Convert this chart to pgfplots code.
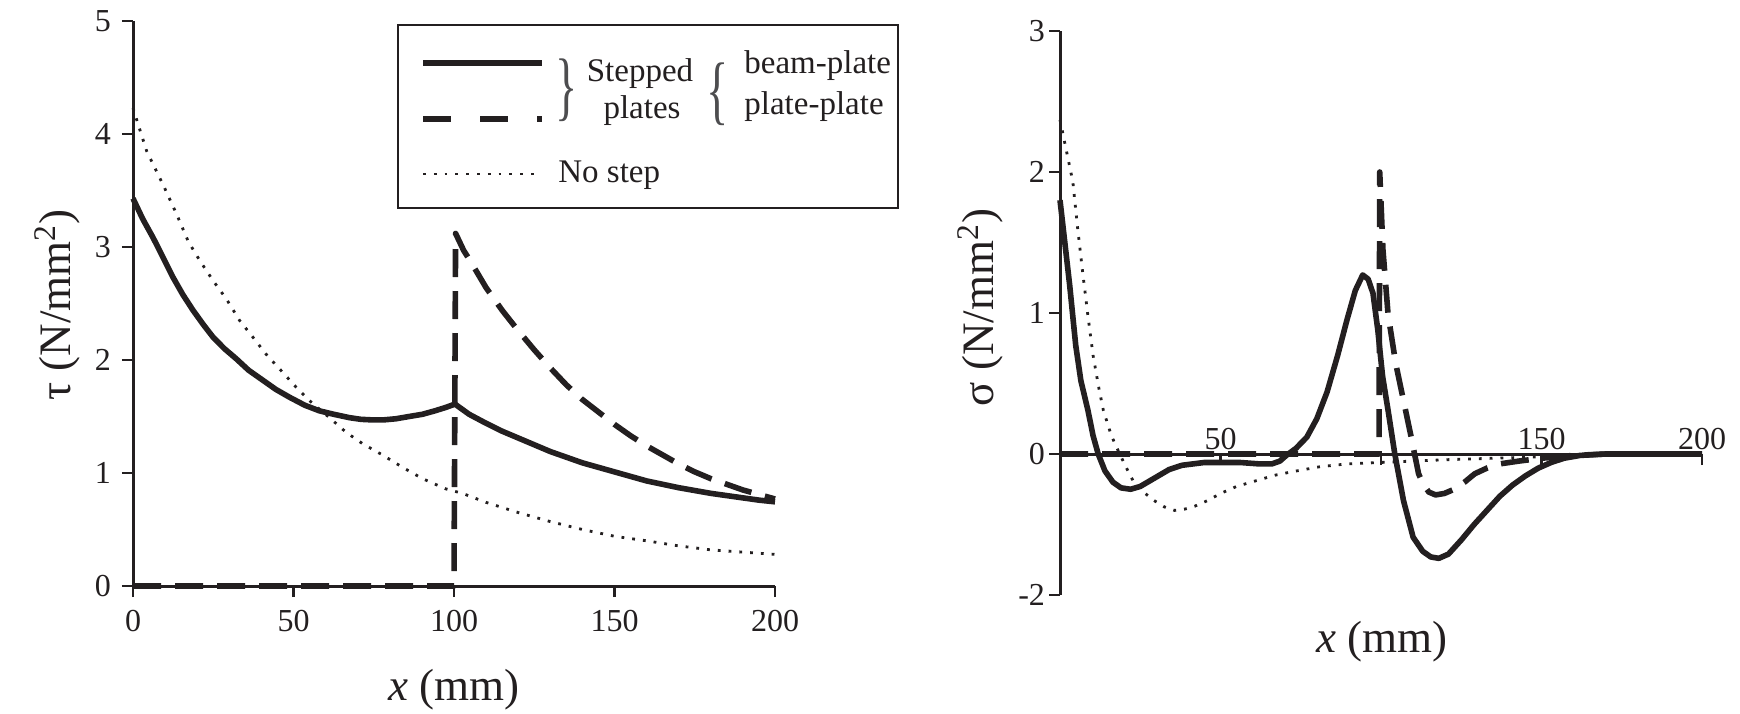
\documentclass[border=0pt]{standalone}
\usepackage{fontspec}
\setmainfont{Liberation Serif}
\usepackage{graphicx}
\usepackage{pgfplots}
\pgfplotsset{compat=1.18}
\definecolor{ink}{HTML}{231F20}
\definecolor{bracegray}{HTML}{4D4D4F}
\newcommand{\tickfont}{\fontsize{16}{18}\selectfont}
\newcommand{\labfont}{\fontsize{22.5}{26}\selectfont}
\newcommand{\legfont}{\fontsize{16.5}{18}\selectfont}

\tikzset{
  beam/.style={ink, line width=2.8pt, line join=round},
  plate/.style={ink, line width=2.8pt, line join=round, dash pattern=on 14pt off 7pt},
  nostep/.style={ink, line width=1.4pt, dash pattern=on 1.4pt off 4pt},
}
\pgfplotsset{
  stressaxis/.style={
    scale only axis, width=321pt, anchor=south west, clip=false,
    xmin=0, xmax=200,
    axis line style={line width=1.5pt, ink, -},
    tick style={line width=1.4pt, ink},
    major tick length=5.5pt, tick align=outside,
    ticklabel style={font=\tickfont, text=ink},
    /pgf/number format/assume math mode=true,
  },
}

\begin{document}
\begin{tikzpicture}
\useasboundingbox (0pt,0pt) rectangle (870pt,-356.5pt);

% shear stress
\begin{axis}[stressaxis, at={(66.5pt,-293pt)}, height=282.5pt,
  ymin=0, ymax=5, xtick={0,50,...,200}, ytick={0,1,...,5},
  axis x line*=bottom, axis y line*=left,
  xticklabel style={yshift=-3pt}, yticklabel style={xshift=-2pt}]
\addplot[nostep] coordinates {
  (0,4.23) (2,4.05) (4.25,3.85) (6.8,3.70) (9.4,3.55) (13.6,3.29) (17.2,3.05)
  (20.8,2.88) (25,2.70) (29.1,2.54) (33.2,2.35) (37.4,2.20) (41.5,2.05)
  (45.7,1.92) (50.8,1.76) (55,1.64) (61.2,1.49) (66.4,1.36) (71.5,1.26)
  (77.7,1.16) (84,1.05) (90.2,0.95) (97.4,0.86) (102.6,0.82) (110,0.74)
  (120,0.65) (130,0.57) (140,0.50) (150,0.44) (160,0.40) (170,0.355)
  (180,0.32) (190,0.30) (200,0.28)};
\addplot[beam] coordinates {
  (0,3.43) (3,3.25) (6.3,3.08) (9.5,2.90) (12.5,2.73) (15.5,2.58) (18.7,2.44)
  (22,2.31) (25,2.20) (28.5,2.10) (32.2,2.01) (36,1.91) (40.5,1.82)
  (44.5,1.74) (48.8,1.67) (53.5,1.60) (58.1,1.55) (62.5,1.52) (67.4,1.49)
  (71,1.475) (74.6,1.47) (78,1.47) (81.9,1.48) (86,1.50) (90.2,1.52)
  (94,1.55) (97.4,1.58) (100.3,1.61) (104.7,1.52) (110,1.44) (115,1.37)
  (120,1.31) (125,1.25) (130,1.19) (135,1.14) (140,1.09) (145,1.05)
  (150,1.01) (155,0.97) (160,0.93) (165,0.90) (170,0.87) (175,0.845)
  (180,0.82) (185,0.80) (190,0.78) (195,0.76) (200,0.745)};
\addplot[plate] coordinates {
  (0,0) (100,0) (100.5,3.12) (103,2.97) (105,2.88) (110,2.64) (115,2.44)
  (120,2.26) (125,2.09) (130,1.93) (135,1.78) (140,1.65) (145,1.54)
  (150,1.43) (155,1.33) (160,1.24) (165,1.16) (170,1.08) (175,1.01)
  (180,0.95) (185,0.90) (190,0.85) (195,0.81) (200,0.77)};
\end{axis}

% normal stress
\begin{axis}[stressaxis, at={(530pt,-297.5pt)}, height=282pt,
  ymin=-1, ymax=3, ytick={-1,0,1,2,3}, yticklabels={-2,0,1,2,3},
  xtick={50,100,150,200}, xticklabels={},
  axis y line*=left, axis x line*=middle,
  hide obscured x ticks=false, hide obscured y ticks=false,
  yticklabel style={xshift=1.5pt}]
\addplot[nostep] coordinates {
  (0,2.37) (2,2.15) (4,1.93) (5.5,1.60) (7.1,1.28) (8.7,0.98) (10.3,0.70)
  (12,0.48) (13.5,0.31) (16,0.13) (18.2,0.02) (20.5,-0.09) (23,-0.20)
  (26,-0.27) (29.3,-0.33) (32.5,-0.375) (35.7,-0.40) (39,-0.39) (42,-0.37)
  (46,-0.33) (50,-0.28) (55,-0.23) (61,-0.19) (67,-0.15) (73.7,-0.12)
  (81,-0.09) (89.5,-0.07) (99.8,-0.06) (110,-0.05) (121,-0.04) (135,-0.03)
  (150,-0.02) (165,-0.01) (180,0) (200,0)};
\addplot[beam] coordinates {
  (0,1.80) (1.5,1.50) (3,1.20) (4.9,0.77) (6.5,0.52) (8.7,0.31) (10.3,0.13)
  (11.9,0) (14,-0.12) (16.5,-0.20) (19,-0.24) (22,-0.25) (25,-0.23)
  (28,-0.19) (31,-0.15) (34,-0.11) (38,-0.08) (45,-0.06) (56,-0.06)
  (62,-0.07) (66,-0.07) (68.5,-0.05) (70.5,-0.01) (73.5,0.04) (76.9,0.12)
  (80,0.25) (83.2,0.44) (86.5,0.70) (89.5,0.96) (92,1.16) (94.3,1.27)
  (96,1.24) (97.5,1.14) (99,0.88) (100.5,0.55) (102.2,0.31) (104.3,0)
  (107,-0.33) (110,-0.59) (113,-0.69) (115.5,-0.73) (118,-0.74)
  (121,-0.71) (125,-0.61) (129,-0.50) (133,-0.40) (137,-0.30) (141,-0.22)
  (145,-0.155) (149,-0.10) (153,-0.06) (157,-0.03) (162,-0.01) (170,0)
  (200,0)};
\addplot[plate] coordinates {
  (0,0) (99.4,0) (99.6,2.0) (100.6,1.45) (102.2,0.99) (104.6,0.64)
  (107,0.38) (109.4,0.12) (111.7,-0.14) (113.3,-0.22) (114.9,-0.27)
  (117,-0.29) (119.7,-0.28) (122.8,-0.25) (126,-0.20) (129.2,-0.14)
  (133,-0.10) (137,-0.07) (143,-0.05) (150,-0.03) (160,-0.01) (170,0)
  (200,0)};
\pgfplotsinvokeforeach{50,150,200}{
  \node[font=\tickfont, text=ink, anchor=base] at (axis cs:#1,0) [yshift=2.5pt] {#1};
}
\end{axis}

% axis titles
\node[font=\labfont, text=ink, anchor=base] at (227pt,-350.2pt) {\textit{x} (mm)};
\node[font=\labfont, text=ink, anchor=base] at (691pt,-326.3pt) {\textit{x} (mm)};
\node[font=\labfont, text=ink, rotate=90] at (28.5pt,-152.5pt) {τ (N/mm\textsuperscript{2})};
\node[font=\labfont, text=ink, rotate=90] at (490pt,-153.8pt) {σ (N/mm\textsuperscript{2})};

% legend
\draw[ink, line width=1pt, fill=white] (199pt,-12.5pt) rectangle (449pt,-104pt);
\draw[beam] (211.5pt,-31.5pt) -- (271pt,-31.5pt);
\draw[ink, line width=2.8pt, dash pattern=on 14pt off 14.5pt] (211.5pt,-59.5pt) -- (271pt,-59.5pt);
\draw[nostep] (211.5pt,-87pt) -- (267.5pt,-87pt);
\node[font=\legfont, text=bracegray, inner sep=0pt] at (283.5pt,-45pt) {\scalebox{1.4}[2.3]{\}}};
\node[font=\legfont, text=bracegray, inner sep=0pt] at (359pt,-47pt) {\scalebox{1.4}[2.3]{\{}};
\node[font=\legfont, text=ink, anchor=base, inner sep=0pt] at (320pt,-40.7pt) {Stepped};
\node[font=\legfont, text=ink, anchor=base, inner sep=0pt] at (321pt,-59.2pt) {plates};
\node[font=\legfont, text=ink, anchor=base west, inner sep=0pt] at (372pt,-36.7pt) {beam-plate};
\node[font=\legfont, text=ink, anchor=base west, inner sep=0pt] at (372pt,-57.4pt) {plate-plate};
\node[font=\legfont, text=ink, anchor=base west, inner sep=0pt] at (279pt,-91pt) {No step};
\end{tikzpicture}
\end{document}
